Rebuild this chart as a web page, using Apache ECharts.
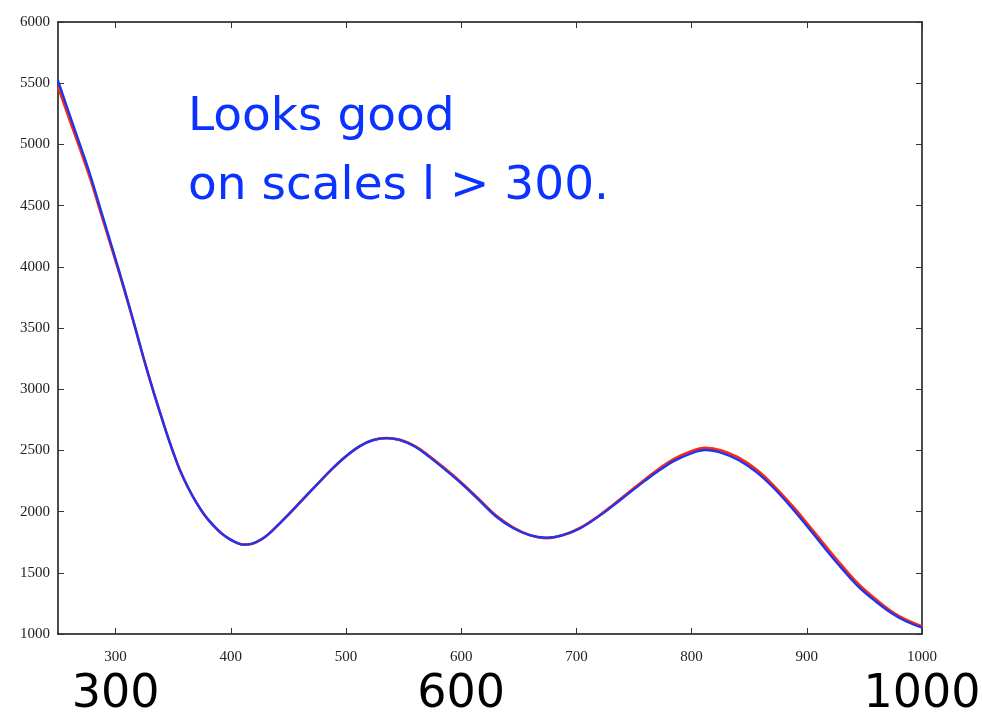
<!DOCTYPE html>
<html>
<head>
<meta charset="utf-8">
<script src="https://cdn.jsdelivr.net/npm/echarts@6/dist/echarts.min.js"></script>
<style>
  html, body { margin: 0; padding: 0; background: #fff; }
  #chart { width: 982px; height: 713px; }
</style>
</head>
<body>
<div id="chart"></div>
<script>
// Multipole l and two power spectrum curves (red = reference, blue = approximation)
const ell = [250, 262, 269, 278, 286, 294, 302, 310, 317, 324, 330, 337, 344, 350, 356, 363, 370, 377, 385, 392, 399, 405, 411, 418, 428, 435, 442, 450, 457, 465, 474, 487, 500, 512, 523, 535, 547, 560, 572, 587, 601, 615, 630, 645, 660, 674, 688, 703, 720, 732, 746, 760, 772, 784, 798, 812, 826, 841, 856, 870, 887, 902, 916, 930, 945, 960, 974, 987, 1000];
const clBlue = [5520, 5190, 5000, 4750, 4500, 4250, 4000, 3740, 3505, 3265, 3070, 2855, 2650, 2485, 2335, 2195, 2075, 1975, 1885, 1822, 1775, 1746, 1730, 1736, 1782, 1835, 1900, 1975, 2045, 2125, 2213, 2340, 2452, 2535, 2583, 2600, 2584, 2530, 2449, 2335, 2222, 2098, 1962, 1866, 1805, 1787, 1808, 1862, 1965, 2050, 2153, 2255, 2337, 2410, 2470, 2503, 2480, 2420, 2325, 2205, 2030, 1860, 1697, 1540, 1385, 1265, 1168, 1100, 1052];
const clRed  = [5470, 5150, 4965, 4720, 4475, 4230, 3985, 3730, 3500, 3263, 3070, 2855, 2650, 2485, 2335, 2195, 2075, 1975, 1885, 1822, 1775, 1746, 1730, 1736, 1782, 1835, 1900, 1975, 2045, 2125, 2213, 2340, 2452, 2535, 2583, 2600, 2586, 2535, 2456, 2343, 2230, 2106, 1970, 1872, 1807, 1783, 1806, 1866, 1970, 2056, 2162, 2267, 2352, 2427, 2488, 2521, 2500, 2440, 2345, 2225, 2052, 1884, 1722, 1564, 1407, 1283, 1182, 1112, 1063];

const xTicks = [300, 400, 500, 600, 700, 800, 900, 1000];
const bigXLabels = [300, 600, 1000];
const noteLines = ['Looks good', 'on scales l > 300.'];

const chart = echarts.init(document.getElementById('chart'), null, { renderer: 'canvas' });

const serif = '"Liberation Serif", "DejaVu Serif", serif';
const plain = v => String(v);
const frameLine = { show: true, lineStyle: { color: '#111', width: 1.5 } };
const innerTick = { show: true, inside: true, length: 6, lineStyle: { color: '#333', width: 1 } };

chart.setOption({
  animation: false,
  backgroundColor: '#fff',
  grid: { left: 58, right: 60, top: 22, bottom: 79, containLabel: false, outerBoundsMode: 'none' },
  xAxis: [
    {
      type: 'value', min: 250, max: 1000, position: 'bottom',
      axisLine: frameLine,
      axisTick: Object.assign({ customValues: xTicks }, innerTick),
      axisLabel: { customValues: xTicks, formatter: plain, fontFamily: serif, fontSize: 15, color: '#222', margin: 16 },
      splitLine: { show: false }
    },
    {
      type: 'value', min: 250, max: 1000, position: 'top',
      axisLine: frameLine,
      axisTick: Object.assign({ customValues: xTicks }, innerTick),
      axisLabel: { show: false },
      splitLine: { show: false }
    },
    {
      type: 'value', min: 250, max: 1000, position: 'bottom', offset: 30,
      axisLine: { show: false }, axisTick: { show: false },
      axisLabel: {
        customValues: bigXLabels, formatter: plain,
        fontFamily: '"DejaVu Sans", sans-serif', fontSize: 46, color: '#000'
      },
      splitLine: { show: false }
    }
  ],
  yAxis: [
    {
      type: 'value', min: 1000, max: 6000, interval: 500, position: 'left',
      axisLine: frameLine, axisTick: innerTick,
      axisLabel: { formatter: plain, fontFamily: serif, fontSize: 15, color: '#222', margin: 8 },
      splitLine: { show: false }
    },
    {
      type: 'value', min: 1000, max: 6000, interval: 500, position: 'right',
      axisLine: frameLine, axisTick: innerTick,
      axisLabel: { show: false },
      splitLine: { show: false }
    }
  ],
  series: [
    {
      type: 'line', name: 'reference', smooth: 0.4, symbol: 'none',
      data: ell.map((l, i) => [l, clRed[i]]),
      lineStyle: { color: '#ff2a0a', width: 2.6 }, z: 2
    },
    {
      type: 'line', name: 'approx', smooth: 0.4, symbol: 'none',
      data: ell.map((l, i) => [l, clBlue[i]]),
      lineStyle: { color: '#1f33f5', width: 2.4 }, z: 3
    }
  ],
  graphic: [
    {
      type: 'text', left: 188, top: 83,
      style: {
        text: noteLines.join('\n'),
        font: '47px "DejaVu Sans", sans-serif',
        lineHeight: 69,
        fill: '#0a33ff'
      }
    }
  ]
});
</script>
</body>
</html>
